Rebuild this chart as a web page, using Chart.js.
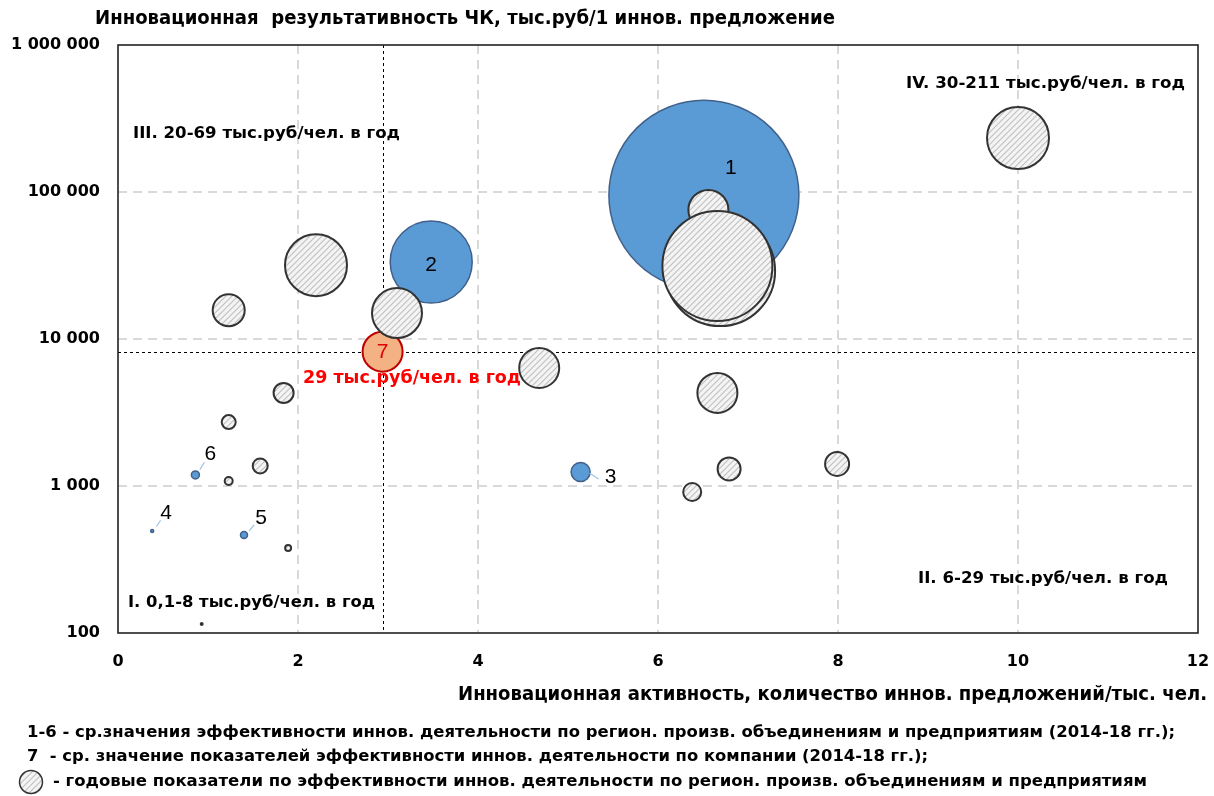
<!DOCTYPE html>
<html>
<head>
<meta charset="utf-8">
<script src="https://cdn.jsdelivr.net/npm/chart.js@4.4.1/dist/chart.umd.min.js"></script>
<style>
  html, body { margin: 0; padding: 0; background: #fff; }
</style>
</head>
<body>
<canvas id="myChart" width="1214" height="796"></canvas>
<script>
// 1-6: средние по регион. произв. объединениям, 7: средние по компании
const avgNames = ['1', '2', '3', '4', '5', '6']
const avgX = [6.51, 3.48, 5.14, 0.38, 1.40, 0.86]
const avgY = [95000, 33400, 1245, 494, 464, 1190]
const avgR = [95, 41, 9.5, 1.5, 3.5, 4]

const compX = [2.94]
const compY = [8200]
const compR = [20]

// годовые показатели (штриховка)
const yearX = [10.0, 6.56, 6.69, 6.66, 2.20, 1.23, 3.10, 4.68, 6.66, 1.84, 1.23, 1.58, 1.23, 6.79, 7.99, 6.38, 1.89, 0.93]
const yearY = [233000, 75500, 29000, 31400, 31800, 15700, 15000, 6350, 4300, 4300, 2720, 1370, 1080, 1306, 1413, 910, 378, 115]
const yearR = [31, 20, 55, 55, 31, 16, 25, 20, 20, 10, 7, 7.5, 4, 11.5, 12, 9, 3, 1]

// средние по компании - линии раздела квадрантов
const compLineX = 2.94
const compLineY = 8200

const xTicks = [0, 2, 4, 6, 8, 10, 12]
const yTicks = [100, 1000, 10000, 100000, 1000000]

// смещения подписей номеров от центра пузыря [dx, dy, leader]
const labelShift = [
    [27, -27, false],
    [0, 3, false],
    [30, 5, true],
    [14, -18, true],
    [17, -17, true],
    [15, -21, true]
]

const canvas = document.getElementById('myChart')
const ctx = canvas.getContext('2d')

function makeHatch() {
    const c = document.createElement('canvas')
    c.width = 6
    c.height = 6
    const g = c.getContext('2d')
    g.fillStyle = '#f4f4f4'
    g.fillRect(0, 0, 6, 6)
    g.strokeStyle = '#c2c2c2'
    g.lineWidth = 1.2
    g.beginPath()
    g.moveTo(-1, 7); g.lineTo(7, -1)
    g.moveTo(-4, 4); g.lineTo(4, -4)
    g.moveTo(2, 10); g.lineTo(10, 2)
    g.stroke()
    return ctx.createPattern(c, 'repeat')
}
const hatch = makeHatch()

function fitText(c, str, x, y, w, font, color) {
    c.save()
    c.font = font
    c.fillStyle = color
    c.textBaseline = 'middle'
    c.textAlign = 'left'
    const k = w / c.measureText(str).width
    c.translate(x, y)
    c.scale(k, 1)
    c.fillText(str, 0, 0)
    c.restore()
}

const bold = (s) => 'bold ' + s + 'px "DejaVu Sans"'

const extras = {
    id: 'extras',
    beforeDatasetsDraw(chart) {
        const c = chart.ctx
        const a = chart.chartArea
        const xs = chart.scales.x
        const ys = chart.scales.y
        c.save()
        c.strokeStyle = '#000'
        c.lineWidth = 1
        c.setLineDash([3, 3])
        const vx = Math.round(xs.getPixelForValue(compLineX)) + 0.5
        const hy = Math.round(ys.getPixelForValue(compLineY)) + 0.5
        c.beginPath()
        c.moveTo(vx, a.top); c.lineTo(vx, a.bottom)
        c.moveTo(a.left, hy); c.lineTo(a.right, hy)
        c.stroke()
        c.setLineDash([])
        c.lineWidth = 1.6
        c.strokeStyle = '#222'
        c.strokeRect(a.left, a.top, a.right - a.left, a.bottom - a.top)
        c.restore()
    },
    afterDraw(chart) {
        const c = chart.ctx
        // подписи номеров
        const meta = chart.getDatasetMeta(2)
        c.save()
        c.font = '21px "Liberation Sans"'
        c.textAlign = 'center'
        c.textBaseline = 'middle'
        meta.data.forEach((el, i) => {
            const s = labelShift[i]
            if (s[2]) {
                c.strokeStyle = '#9dc3e6'
                c.lineWidth = 1.2
                c.beginPath()
                c.moveTo(el.x + s[0] * 0.3, el.y + s[1] * 0.25)
                c.lineTo(el.x + s[0] * 0.6, el.y + s[1] * 0.6 + (s[1] > 0 ? 4 : 0))
                c.stroke()
            }
            c.fillStyle = '#000'
            c.fillText(avgNames[i], el.x + s[0], el.y + s[1])
        })
        const p7 = chart.getDatasetMeta(1).data[0]
        c.fillStyle = '#e00000'
        c.fillText('7', p7.x, p7.y + 1)
        c.restore()

        fitText(c, 'Инновационная  результативность ЧК, тыс.руб/1 иннов. предложение', 95, 19, 740, bold(19), '#000')
        fitText(c, 'III. 20-69 тыс.руб/чел. в год', 133, 134, 267, bold(16), '#000')
        fitText(c, 'IV. 30-211 тыс.руб/чел. в год', 906, 84, 279, bold(16), '#000')
        fitText(c, 'II. 6-29 тыс.руб/чел. в год', 918, 579, 250, bold(16), '#000')
        fitText(c, 'I. 0,1-8 тыс.руб/чел. в год', 128, 603, 247, bold(16), '#000')
        fitText(c, '29 тыс.руб/чел. в год', 303, 378, 218, bold(18), '#ff0000')
        fitText(c, 'Инновационная активность, количество иннов. предложений/тыс. чел.', 458, 695, 749, bold(19), '#000')
        fitText(c, '1-6 - ср.значения эффективности иннов. деятельности по регион. произв. объединениям и предприятиям (2014-18 гг.);', 27, 733, 1148, bold(16), '#000')
        fitText(c, '7  - ср. значение показателей эффективности иннов. деятельности по компании (2014-18 гг.);', 27, 757, 901, bold(16), '#000')
        fitText(c, '- годовые показатели по эффективности иннов. деятельности по регион. произв. объединениям и предприятиям', 53, 782, 1094, bold(16), '#000')
        c.save()
        c.beginPath()
        c.arc(31, 782, 11.5, 0, Math.PI * 2)
        c.fillStyle = hatch
        c.fill()
        c.lineWidth = 1.5
        c.strokeStyle = '#333'
        c.stroke()
        c.restore()
    }
}

const gridColor = (cx) => {
    const v = cx.tick && cx.tick.value
    const s = cx.scale
    return (v === s.min || v === s.max) ? 'rgba(0,0,0,0)' : '#d9d9d9'
}

const chart = new Chart(ctx, {
    type: 'bubble',
    data: {
        datasets: [
            {
                label: 'годовые показатели',
                data: yearX.map((x, i) => ({ x: x, y: yearY[i], r: yearR[i] })),
                backgroundColor: hatch,
                borderColor: '#333333',
                borderWidth: 2,
                order: 0
            },
            {
                label: 'компания',
                data: compX.map((x, i) => ({ x: x, y: compY[i], r: compR[i] })),
                backgroundColor: '#f4b183',
                borderColor: '#c00000',
                borderWidth: 2,
                order: 1
            },
            {
                label: 'регионы',
                data: avgX.map((x, i) => ({ x: x, y: avgY[i], r: avgR[i] })),
                backgroundColor: '#5b9bd5',
                borderColor: '#41608a',
                borderWidth: 1.5,
                order: 2
            }
        ]
    },
    options: {
        responsive: false,
        animation: false,
        events: [],
        layout: { autoPadding: false, padding: { left: 0, right: 16, top: 45, bottom: 123 } },
        plugins: {
            legend: { display: false },
            tooltip: { enabled: false }
        },
        scales: {
            x: {
                type: 'linear',
                min: 0,
                max: 12,
                afterBuildTicks: (s) => { s.ticks = xTicks.map(v => ({ value: v })) },
                afterFit: (s) => { s.height = 40; s.paddingLeft = 0; s.paddingRight = 0 },
                grid: { color: gridColor, lineWidth: 2, drawTicks: false },
                border: { display: false, dash: [9, 6] },
                ticks: {
                    color: '#000',
                    padding: 19,
                    maxRotation: 0,
                    font: { family: 'DejaVu Sans', weight: 'bold', size: 16 }
                }
            },
            y: {
                type: 'logarithmic',
                min: 100,
                max: 1000000,
                afterBuildTicks: (s) => { s.ticks = yTicks.map(v => ({ value: v })) },
                afterFit: (s) => { s.width = 118; s.paddingTop = 0; s.paddingBottom = 0 },
                grid: { color: gridColor, lineWidth: 2, drawTicks: false },
                border: { display: false, dash: [9, 6] },
                ticks: {
                    color: '#000',
                    padding: 18,
                    font: { family: 'DejaVu Sans', weight: 'bold', size: 16 },
                    callback: (v) => String(v).replace(/\B(?=(\d{3})+(?!\d))/g, ' ')
                }
            }
        }
    },
    plugins: [extras]
})
</script>
</body>
</html>
